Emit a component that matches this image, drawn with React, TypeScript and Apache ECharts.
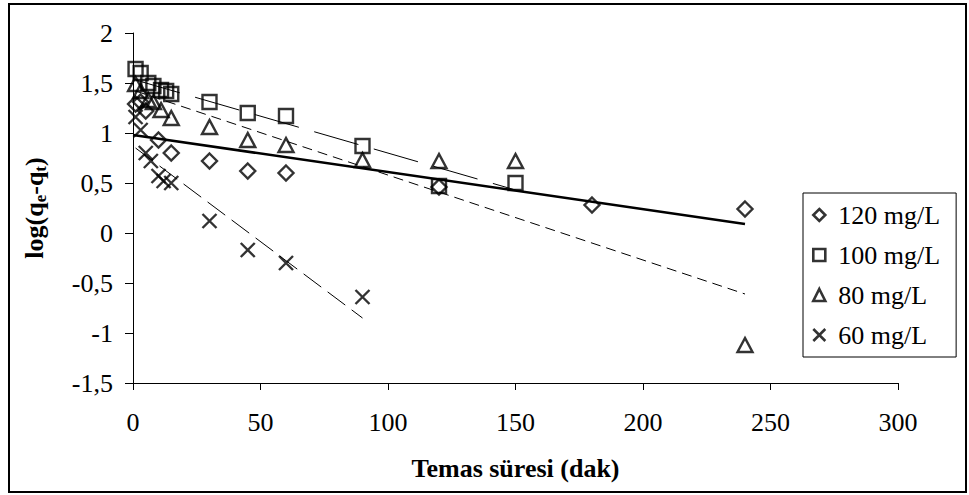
import React, { useEffect, useRef } from 'react';
import * as echarts from 'echarts';

const seriesNames = ['120 mg/L', '100 mg/L', '80 mg/L', '60 mg/L'];

const t120 = [1, 3, 5, 10, 15, 30, 45, 60, 120, 180, 240];
const v120 = [1.29, 1.31, 1.22, 0.93, 0.8, 0.72, 0.62, 0.6, 0.46, 0.28, 0.24];

const t100 = [1, 3, 6, 8, 11, 13, 15, 30, 45, 60, 90, 120, 150];
const v100 = [1.64, 1.6, 1.5, 1.47, 1.43, 1.42, 1.39, 1.31, 1.2, 1.17, 0.87, 0.47, 0.5];

const t80 = [1, 3, 6, 8, 11, 15, 30, 45, 60, 90, 120, 150, 240];
const v80 = [1.49, 1.42, 1.33, 1.31, 1.23, 1.15, 1.06, 0.93, 0.88, 0.73, 0.72, 0.72, -1.12];

const t60 = [1, 3, 5, 7, 10, 12, 15, 30, 45, 60, 90];
const v60 = [1.16, 1.03, 0.8, 0.72, 0.57, 0.52, 0.5, 0.12, -0.17, -0.3, -0.64];

// trend lines (end points)
const trend120 = [[0, 0.98], [240, 0.09]];
const trend100 = [[1, 1.53], [150, 0.43]];
const trend80 = [[1, 1.42], [240, -0.61]];
const trend60 = [[1, 0.85], [90, -0.85]];

const xTicks = { min: 0, max: 300, interval: 50 };
const yTicks = { min: -1.5, max: 2, interval: 0.5 };

const FONT = "'Liberation Serif', 'Times New Roman', serif";
const CROSS = 'path://M0,0L10,10M10,0L0,10';

const zip = (xs: number[], ys: number[]) => xs.map((x, i) => [x, ys[i]]);

export default function App() {
  const ref = useRef<HTMLDivElement>(null);
  useEffect(() => {
    if (!ref.current) return;
    const chart = echarts.init(ref.current, undefined, { renderer: 'svg' });
    const markerStyle = { color: 'rgba(0,0,0,0)', borderColor: '#000', borderWidth: 2.4 };
    const scatter = (name: string, data: number[][], symbol: string, size: any) => ({
      name,
      type: 'scatter',
      data,
      symbol,
      symbolSize: size,
      itemStyle: markerStyle,
      z: 3,
    });
    const trend = (data: number[][], type: any, width: number) => ({
      type: 'line',
      data,
      showSymbol: false,
      symbol: 'none',
      silent: true,
      lineStyle: { color: '#000', width, type },
      z: 2,
    });
    chart.setOption({
      animation: false,
      backgroundColor: '#fff',
      textStyle: { fontFamily: FONT },
      grid: { left: 133, top: 33, right: 71, bottom: 112, containLabel: false },
      xAxis: {
        type: 'value',
        ...xTicks,
        name: 'Temas süresi (dak)',
        nameLocation: 'middle',
        nameGap: 72,
        nameTextStyle: { fontFamily: FONT, fontSize: 26, fontWeight: 'bold', color: '#000' },
        axisLine: { onZero: false, lineStyle: { color: '#000', width: 1 } },
        axisTick: { show: true, inside: false, length: 7, lineStyle: { color: '#000' } },
        axisLabel: { fontFamily: FONT, fontSize: 26, color: '#000', margin: 26 },
        splitLine: { show: false },
      },
      yAxis: {
        type: 'value',
        ...yTicks,
        name: '{a|log(q}{s|e}{a|-q}{s|t}{a|)}',
        nameLocation: 'middle',
        nameGap: 84,
        nameTextStyle: {
          color: '#000',
          rich: {
            a: { fontFamily: FONT, fontSize: 26, fontWeight: 'bold', color: '#000', lineHeight: 30, verticalAlign: 'middle' },
            s: { fontFamily: FONT, fontSize: 17, fontWeight: 'bold', color: '#000', lineHeight: 16, verticalAlign: 'bottom' },
          },
        },
        axisLine: { onZero: false, lineStyle: { color: '#000', width: 1 } },
        axisTick: { show: true, inside: false, length: 8, lineStyle: { color: '#000' } },
        axisLabel: {
          fontFamily: FONT,
          fontSize: 26,
          color: '#000',
          margin: 20,
          formatter: (v: number) => String(v).replace('.', ','),
        },
        splitLine: { show: false },
      },
      legend: {
        orient: 'vertical',
        left: 803,
        top: 193,
        padding: [9, 16, 9, 9],
        itemGap: 14,
        itemWidth: 12,
        itemHeight: 12,
        borderColor: '#000',
        borderWidth: 1,
        backgroundColor: '#fff',
        itemStyle: { borderWidth: 2.6 },
        textStyle: { fontFamily: FONT, fontSize: 26, color: '#000', padding: [0, 0, 0, 8] },
        data: seriesNames,
      },
      graphic: [
        {
          type: 'rect',
          shape: { x: 9, y: 4, width: 957, height: 488 },
          style: { fill: 'none', stroke: '#000', lineWidth: 2 },
          silent: true,
          z: 100,
        },
      ],
      series: [
        trend(trend120, 'solid', 2.5),
        trend(trend100, [46, 16], 1),
        trend(trend80, [10, 6], 1),
        trend(trend60, [22, 8], 1),
        scatter(seriesNames[0], zip(t120, v120), 'diamond', [15, 15]),
        scatter(seriesNames[1], zip(t100, v100), 'rect', 14),
        scatter(seriesNames[2], zip(t80, v80), 'triangle', [15, 14]),
        scatter(seriesNames[3], zip(t60, v60), CROSS, 14),
      ],
    });
    return () => chart.dispose();
  }, []);
  return (
    <div
      ref={ref}
      style={{ position: 'fixed', left: 0, top: 0, width: 969, height: 495 }}
    />
  );
}
